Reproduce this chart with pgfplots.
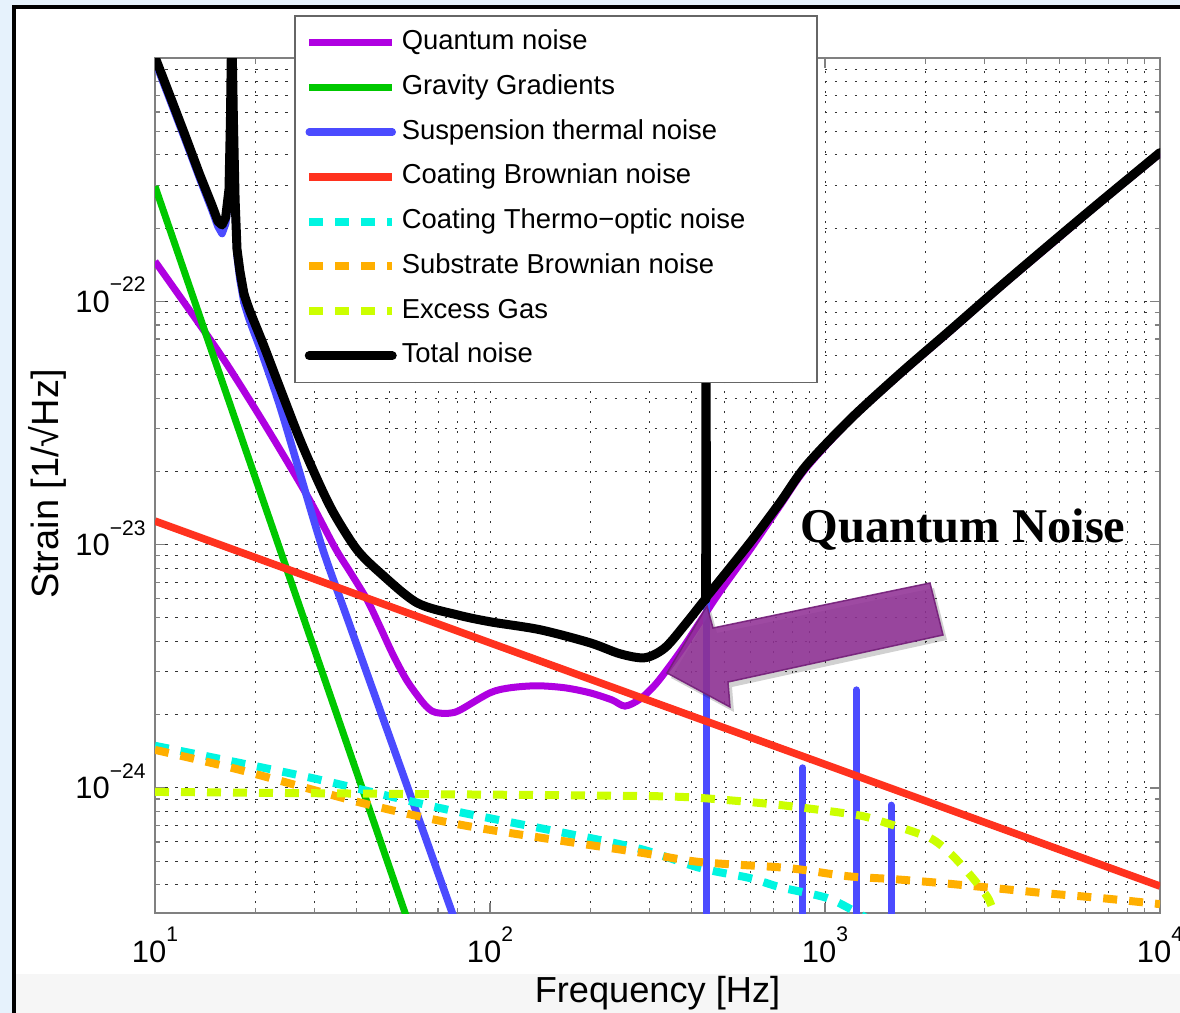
\documentclass[border=0pt]{standalone}
\usepackage{fontspec}
\setmainfont{Liberation Sans}
\newfontfamily\timesfont{Liberation Serif}
\usepackage{pgfplots}
\pgfplotsset{compat=1.18}
\definecolor{qn}{RGB}{175,0,225}
\definecolor{gg}{RGB}{0,200,0}
\definecolor{st}{RGB}{75,75,255}
\definecolor{cb}{RGB}{255,50,30}
\definecolor{to}{RGB}{0,245,225}
\definecolor{sb}{RGB}{255,175,0}
\definecolor{eg}{RGB}{204,255,0}
\definecolor{bgblue}{RGB}{230,242,252}
\definecolor{bggray}{RGB}{246,246,246}
\definecolor{axgray}{RGB}{128,128,128}
\definecolor{arrowc}{RGB}{145,50,150}
\definecolor{arrowd}{RGB}{115,30,120}
\newcommand{\tl}[1]{10\raisebox{0.66em}{\fontsize{6.0}{7}\selectfont #1}}
\begin{document}
\begin{tikzpicture}
\useasboundingbox (0,0) rectangle (118mm,101.3mm);
\fill[bgblue] (0,0) rectangle (118mm,101.3mm);
\fill[white] (1.35mm,3.9mm) rectangle (118mm,100.6mm);
\fill[bggray] (1.35mm,0) rectangle (118mm,3.9mm);
\draw[black, line width=0.4mm] (1.35mm,0) -- (1.35mm,100.6mm) -- (118.5mm,100.6mm);
\begin{axis}[
  at={(15.5mm,10.0mm)}, anchor=south west,
  width=100.5mm, height=85.5mm, scale only axis,
  xmode=log, ymode=log,
  xmin=10, xmax=10000, ymin=3.06e-25, ymax=1e-21,
  xtick={10,100,1000,10000},
  xticklabels={\tl{1},\tl{2},\tl{3},\tl{4}},
  ytick={1e-24,1e-23,1e-22},
  yticklabels={\tl{−24},\tl{−23},\tl{−22}},
  minor xtick={20,30,40,50,60,70,80,90,200,300,400,500,600,700,800,900,2000,3000,4000,5000,6000,7000,8000,9000},
  minor ytick={4e-25,5e-25,6e-25,7e-25,8e-25,9e-25,2e-24,3e-24,4e-24,5e-24,6e-24,7e-24,8e-24,9e-24,2e-23,3e-23,4e-23,5e-23,6e-23,7e-23,8e-23,9e-23,2e-22,3e-22,4e-22,5e-22,6e-22,7e-22,8e-22,9e-22},
  grid=both,
  grid style={black!80, line width=0.1mm, dash pattern=on 0.25mm off 0.75mm},
  tick align=inside,
  major tick length=1.0mm, minor tick length=0.55mm,
  tick style={axgray, line width=0.12mm},
  axis line style={draw=axgray, line width=0.18mm},
  ticklabel style={font=\fontsize{8.8}{10}\selectfont},
  xticklabel style={anchor=base, yshift=-4.9mm},
  yticklabel style={anchor=base east, yshift=-1.1mm, xshift=0.3mm},
  xlabel={Frequency [Hz]}, ylabel={Strain [1/√Hz]},
  xlabel style={font=\fontsize{10.3}{12}\selectfont, at={(axis description cs:0.5,-0.1041)}, anchor=base},
  ylabel style={font=\fontsize{10.8}{12}\selectfont, at={(axis description cs:-0.1075,0.5018)}, anchor=center},
  every axis plot/.append style={line join=round},
  legend style={
    at={(axis description cs:0.1383,1.0503)}, anchor=north west,
    draw=black!60, line width=0.15mm, fill=white,
    font=\fontsize{7.8}{9}\selectfont,
    inner xsep=1.0mm, inner ysep=1.4mm,
    row sep=1.87mm, column sep=0.5mm,
    nodes={inner sep=0pt, text height=2.0mm, text depth=0.6mm},
  },
  legend cell align=left,
  legend image code/.code={\draw[#1] (0mm,0mm) -- (8.3mm,0mm);},
]
% Quantum noise
\addplot[qn, line width=0.7mm, smooth, tension=0.5] coordinates {
(10,1.46e-22) (15.31,6.35e-23) (19.21,3.91e-23) (23.61,2.46e-23) (29.02,1.517e-23)
(34.45,9.72e-24) (38.20,7.74e-24) (42.94,5.94e-24) (46.95,4.60e-24) (51.33,3.53e-24)
(56.52,2.76e-24) (63.1,2.24e-24) (67.13,2.07e-24) (70.91,2.03e-24) (75.96,2.03e-24)
(81.37,2.09e-24) (100,2.46e-24) (114.7,2.58e-24) (138.1,2.63e-24) (167.4,2.58e-24)
(198.9,2.46e-24) (231.3,2.30e-24) (252.9,2.17e-24) (280.5,2.32e-24) (310.8,2.65e-24)
(344.6,3.18e-24) (382.1,3.88e-24) (423.6,4.82e-24) (486.0,6.41e-24) (597.3,9.53e-24)
(734.2,1.447e-23) (877.6,2.06e-23) (1187,3.24e-23) (1675,5.0e-23) (2361,7.52e-23)
(3330,1.14e-22) (4694,1.70e-22) (6486,2.48e-22) (10000,4.05e-22)
};
\addlegendentry{\makebox[40.5mm][l]{Quantum noise}}
% Gravity gradients
\addplot[gg, line width=0.7mm] coordinates {
(10,2.97e-22) (20,1.856e-23) (40,1.16e-24) (60,2.29e-25)
};
\addlegendentry{Gravity Gradients}
% Suspension thermal: low-frequency part with the 17 Hz resonance
\addplot[st, line width=0.75mm, line cap=round, forget plot] coordinates {
(10,9.73e-22) (11.09,6.72e-22) (12.29,4.64e-22) (13.62,3.18e-22) (14.80,2.37e-22)
(15.42,2.03e-22) (15.85,1.90e-22) (16.26,2.09e-22) (16.63,2.78e-22) (16.80,5.4e-22)
(16.92,1.2e-21) (16.95,4e-21) (16.98,1.2e-21) (17.14,5.4e-22) (17.34,2.51e-22)
(17.57,1.55e-22) (17.93,1.23e-22) (18.44,9.9e-23)
};
\addplot[st, line width=0.75mm, line cap=round, smooth, tension=0.5] coordinates {
(18.44,9.9e-23) (19.21,8.28e-23) (21.01,5.94e-23)
(23.61,3.70e-23) (27.09,1.96e-23) (31.72,9.53e-24) (38.20,4.64e-24) (53.86,1.232e-24)
(77.0,3.09e-25) (87.3,1.92e-25)
};
\addlegendentry{Suspension thermal noise}
\addplot[st, line width=0.7mm, line cap=round, forget plot] coordinates {(441.4,1e-26) (441.4,3e-21)};
\addplot[st, line width=0.7mm, line cap=round, forget plot] coordinates {(859,1e-26) (859,1.21e-24)};
\addplot[st, line width=0.7mm, line cap=round, forget plot] coordinates {(1239,1e-26) (1239,2.53e-24)};
\addplot[st, line width=0.7mm, line cap=round, forget plot] coordinates {(1574,1e-26) (1574,8.5e-25)};
% Coating Brownian
\addplot[cb, line width=0.75mm] coordinates {
(10,1.25e-23) (100,3.95e-24) (1000,1.25e-24) (10000,3.95e-25)
};
\addlegendentry{Coating Brownian noise}
% Coating thermo-optic
\addplot[to, line width=0.8mm, dash pattern=on 1.4mm off 1.2mm, smooth, tension=0.5] coordinates {
(10,1.49e-24) (28.43,1.110e-24) (70.91,8.27e-25) (141.0,6.84e-25) (274.8,5.66e-25)
(423.6,4.69e-25) (597.3,4.26e-25) (734.2,3.91e-25) (1014,3.53e-25) (1237,3.09e-25)
(1362,2.86e-25)
};
\addlegendentry{Coating Thermo−optic noise}
% Substrate Brownian
\addplot[sb, line width=0.8mm, dash pattern=on 1.4mm off 1.2mm, smooth, tension=0.5] coordinates {
(10,1.434e-24) (17.93,1.186e-24) (43.84,8.51e-25) (88.98,6.91e-25) (274.8,5.45e-25)
(423.6,4.96e-25) (770.2,4.69e-25) (1163,4.34e-25) (1596,4.22e-25) (2204,4.07e-25)
(3174,3.88e-25) (4474,3.70e-25) (6621,3.53e-25) (10000,3.33e-25)
};
\addlegendentry{Substrate Brownian noise}
% Excess gas
\addplot[eg, line width=0.8mm, dash pattern=on 1.4mm off 1.2mm, smooth, tension=0.4] coordinates {
(10,9.63e-25) (53.86,9.45e-25) (280.5,9.27e-25) (423.6,9.10e-25) (734.2,8.51e-25)
(1246,7.74e-25) (1490,7.25e-25) (2058,6.23e-25) (2394,5.30e-25) (2747,4.30e-25)
(3066,3.53e-25) (3239,2.92e-25)
};
\addlegendentry{Excess Gas}
% Total noise (pieces)
\addplot[black, line width=0.9mm, line cap=round, forget plot] coordinates {
(10,1.01e-21) (11.09,6.98e-22) (12.29,4.82e-22) (13.62,3.30e-22) (14.80,2.48e-22)
(15.42,2.13e-22) (15.85,2.06e-22) (16.26,2.22e-22) (16.63,2.89e-22) (16.80,5.61e-22)
(16.92,1.2e-21) (16.95,4e-21) (16.98,1.2e-21) (17.14,5.6e-22) (17.34,2.63e-22)
(17.57,1.64e-22) (17.93,1.33e-22) (18.44,1.07e-22)
};
\addplot[black, line width=0.9mm, line cap=round, smooth, tension=0.5, forget plot] coordinates {
(18.44,1.07e-22) (19.21,9.1e-23) (21.01,6.7e-23)
(23.61,4.4e-23) (27.09,2.7e-23) (31.09,1.75e-23) (34.45,1.32e-23) (40.09,9.53e-24)
(46.95,7.67e-24) (60.54,5.77e-24) (79.7,5.15e-24) (100,4.82e-24) (141.0,4.47e-24)
(198.9,3.95e-24) (244.4,3.56e-24) (290.2,3.43e-24) (333.0,3.77e-24) (382.1,4.69e-24)
(435.3,5.88e-24) (440.5,5.95e-24)
};
\addplot[black, line width=0.9mm, line cap=round, forget plot] coordinates {
(440.5,5.95e-24) (441.4,3e-21) (442.3,6.05e-24)
};
\addplot[black, line width=0.9mm, line cap=round, smooth, tension=0.5] coordinates {
(442.3,6.05e-24) (453.7,6.35e-24)
(597.3,1.019e-23) (734.2,1.49e-23) (877.6,2.11e-23) (1187,3.27e-23) (1675,5.05e-23)
(2361,7.60e-23) (3330,1.15e-22) (4694,1.72e-22) (6486,2.50e-22) (10000,4.09e-22)
};
\addlegendentry{Total noise}
\end{axis}
% annotation arrow
\fill[black, opacity=0.18] ([shift={(0.4mm,-0.5mm)}]66.7mm,34.0mm) -- ([shift={(0.4mm,-0.5mm)}]70.7mm,40.7mm) -- ([shift={(0.4mm,-0.5mm)}]71.3mm,38.5mm) -- ([shift={(0.4mm,-0.5mm)}]93.0mm,43.0mm) -- ([shift={(0.4mm,-0.5mm)}]94.3mm,37.8mm) -- ([shift={(0.4mm,-0.5mm)}]72.8mm,33.1mm) -- ([shift={(0.4mm,-0.5mm)}]73.0mm,30.6mm) -- cycle;
\filldraw[fill=arrowc, fill opacity=0.88, draw=arrowd, draw opacity=0.9, line width=0.15mm]
 (66.7mm,34.0mm) -- (70.7mm,40.7mm) -- (71.3mm,38.5mm) -- (93.0mm,43.0mm) -- (94.3mm,37.8mm) -- (72.8mm,33.1mm) -- (73.0mm,30.6mm) -- cycle;
\node[anchor=base west, inner sep=0pt, font=\timesfont\bfseries\fontsize{13.8}{16}\selectfont] at (80.0mm,47.0mm) {Quantum Noise};
\end{tikzpicture}
\end{document}
